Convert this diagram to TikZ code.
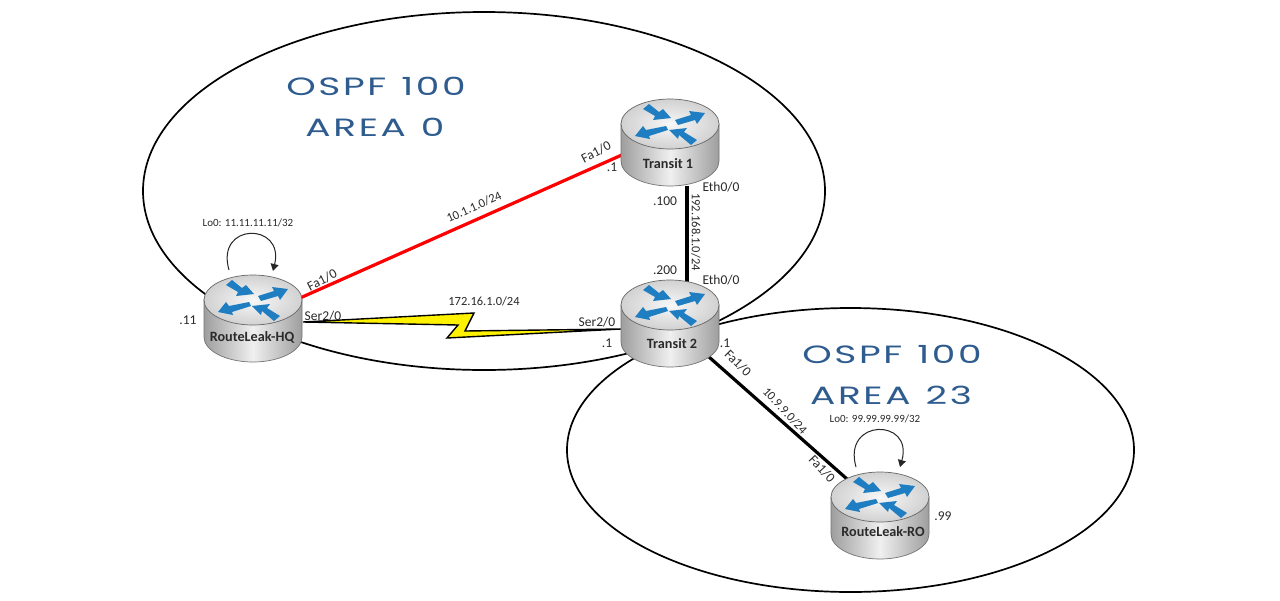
\documentclass[tikz,border=0pt]{standalone}
\usepackage{fontspec}
\setmainfont{Carlito}
\newfontfamily\titlefont[LetterSpace=7]{Poppins}
\usetikzlibrary{arrows.meta,shapes.geometric}
\definecolor{routerblue}{HTML}{1F7EC2}
\definecolor{titleblue}{HTML}{2F5C8F}
\definecolor{txt}{HTML}{2A2A2A}
\newcommand{\wgap}{\hspace{10pt}}
\tikzset{
  area/.style={draw=black,line width=1.7pt,ellipse,inner sep=0pt},
  linkblack/.style={draw=black,line width=3.2pt},
  linkred/.style={draw=red,line width=3.2pt},
  bolt/.style={draw=black,line width=1.4pt,fill=yellow,line join=miter},
  loopline/.style={draw=black!85,line width=1pt,-{Triangle[width=8pt,length=7pt]}},
  lbl/.style={font=\fontsize{12.5}{13}\selectfont,text=txt,inner sep=0pt},
  port/.style={font=\fontsize{13.5}{14}\selectfont,text=txt,inner sep=0pt},
  small/.style={font=\fontsize{11}{12}\selectfont,text=txt,inner sep=0pt},
  rname/.style={font=\fontsize{14.2}{15}\selectfont\bfseries,text=txt,inner sep=0pt},
  title/.style={font=\fontsize{25}{26}\selectfont\titlefont,text=titleblue,inner sep=0pt,xscale=1.5},
  rarrow/.style={fill=routerblue,draw=none},
  routerbox/.style={minimum width=98pt,minimum height=87pt,inner sep=0pt},
  routerpic/.pic={
    \path[draw=black!55,line width=0.7pt,left color=black!38,right color=black!38,middle color=black!6]
      (-49,0) -- (-49,37) .. controls (-49,50.8) and (-27,62) .. (0,62)
      .. controls (27,62) and (49,50.8) .. (49,37) -- (49,0) -- cycle;
    \path[draw=black!60,line width=0.7pt,inner color=black!3,outer color=black!18]
      (0,0) ellipse[x radius=49,y radius=25];
    \fill[rarrow] (-27,-15) -- (-21,-20) -- (-11,-12) -- (-7,-15) -- (1,-6) -- (-17,-4) -- (-15,-8) -- cycle;
    \fill[rarrow] (5,-4) -- (21,-9) -- (19,-13) -- (35,-11) -- (27,0) -- (25,-4) -- (8,1) -- cycle;
    \fill[rarrow] (-35,12) -- (-27,2) -- (-24,6) -- (-4,2) -- (-2,6) -- (-21,12) -- (-20,15) -- cycle;
    \fill[rarrow] (27,16) -- (21,21) -- (9,11) -- (8,15) -- (-1,6) -- (17,4) -- (14,8) -- cycle;
  }
}
\begin{document}
\begin{tikzpicture}[x=1pt,y=-1pt]
\useasboundingbox (0,0) rectangle (1280,600);
\fill[white] (0,0) rectangle (1280,600);
% areas
\node[area,minimum width=682pt,minimum height=358pt] (area0) at (484,191) {};
\node[area,minimum width=567pt,minimum height=284pt] (area23) at (850.5,450) {};
% router anchors
\node[routerbox] (hq) at (253,318) {};
\node[routerbox] (tr1) at (670,145) {};
\node[routerbox] (tr2) at (670,324) {};
\node[routerbox] (ro) at (880,515) {};
\coordinate (hqfa) at (300,298);
\coordinate (hqser) at (303,322);
\coordinate (trfa) at (624,154);
\coordinate (trb) at (687,186);
\coordinate (tt) at (687,283);
\coordinate (tser) at (621,329);
\coordinate (tfa) at (709,357);
\coordinate (rofa) at (847,479);
% links
\draw[linkred] (hqfa) -- (trfa);
\draw[linkblack] (trb) -- (tt);
\draw[linkblack] (tfa) -- (rofa);
\draw[bolt] (hqser) -- (474,313) -- (465,331) -- (tser) -- (447,338) -- (458,325) -- cycle;
% routers
\path (253,300) pic {routerpic};
\path (670,124) pic {routerpic};
\path (670,305) pic {routerpic};
\path (880,497) pic {routerpic};
% loops
\coordinate (hqa) at (229,270); \coordinate (hqb) at (273,271);
\coordinate (roa) at (856,467); \coordinate (rob) at (900,467);
\draw[loopline] (hqa) .. controls (215,222) and (285,222) .. (hqb);
\draw[loopline] (roa) .. controls (842,418) and (914,418) .. (rob);
% names
\node[rname] (nhq) at (252,337) {RouteLeak-HQ};
\node[rname] (nt1) at (668,164) {Transit 1};
\node[rname] (nt2) at (672,344) {Transit 2};
\node[rname] (nro) at (883,532) {RouteLeak-RO};
% titles
\node[title] (t1) at (376,86) {OSPF\wgap{}100};
\node[title] (t2) at (375,127) {AREA\wgap{}0};
\node[title] (t3) at (892,354) {OSPF\wgap{}100};
\node[title] (t4) at (891,395) {AREA\wgap{}23};
% labels
\node[small] (l1) at (248,223) {Lo0: 11.11.11.11/32};
\node[small] (l2) at (875,419) {Lo0: 99.99.99.99/32};
\node[port] (l3) at (188,320) {.11};
\node[port,rotate=27] (l4) at (322,280) {Fa1/0};
\node[port] (l5) at (323,316) {Ser2/0};
\node[lbl,rotate=24] (l6) at (474,207) {10.1.1.0/24};
\node[lbl] (l7) at (484,301) {172.16.1.0/24};
\node[port] (l8) at (597,322) {Ser2/0};
\node[port] (l9) at (607,343) {.1};
\node[port,rotate=27] (l10) at (596,152) {Fa1/0};
\node[port] (l11) at (612,167) {.1};
\node[port] (l12) at (721,187) {Eth0/0};
\node[port] (l13) at (665,201) {.100};
\node[lbl,rotate=-90] (l14) at (696,232) {192.168.1.0/24};
\node[port] (l15) at (665,270) {.200};
\node[port] (l16) at (721,280) {Eth0/0};
\node[port] (l17) at (725,343) {.1};
\node[port,rotate=-45] (l18) at (738,363) {Fa1/0};
\node[lbl,rotate=-47] (l19) at (785,411) {10.9.9.0/24};
\node[port,rotate=-47] (l20) at (822,469) {Fa1/0};
\node[port] (l21) at (943,516) {.99};
\end{tikzpicture}
\end{document}
